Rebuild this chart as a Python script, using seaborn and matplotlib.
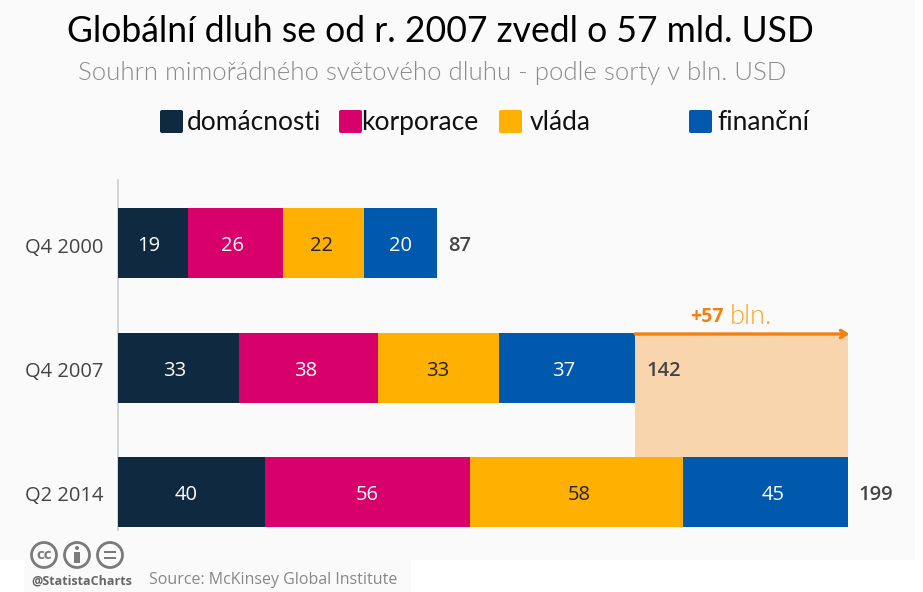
import pandas as pd
import matplotlib.pyplot as plt
import seaborn as sns
from matplotlib.patches import Rectangle, Circle, FancyBboxPatch
from matplotlib.transforms import ScaledTranslation

quarters = ["Q4 2000", "Q4 2007", "Q2 2014"]
domacnosti = [19, 33, 40]
korporace = [26, 38, 56]
vlada = [22, 33, 58]
financni = [20, 37, 45]
totals = [87, 142, 199]

series = ["domácnosti", "korporace", "vláda", "finanční"]
colors = ["#0f2a40", "#d8006a", "#ffb000", "#0059ad"]
text_colors = ["white", "white", "#222222", "white"]
legend_x = [160, 339, 499, 689]
legend_text_x = [187, 361, 530, 717]

# the value labels are not quite centred in the original (px, per quarter and series)
label_nudge = [[-4, -3, -2, 0], [-4, -3, -1, -4], [-5, 0, 3, 8]]

BG = "#fafafa"
SCALE = 3.668  # px per unit

df = pd.DataFrame({"domácnosti": domacnosti, "korporace": korporace,
                   "vláda": vlada, "finanční": financni}, index=quarters)
cum = df.cumsum(axis=1)

sns.set_theme(style="white")
plt.rcParams["font.family"] = ["Open Sans", "DejaVu Sans"]

fig = plt.figure(figsize=(9.23, 5.92), dpi=100, facecolor="white")

# pixel overlay for the page background, titles, legend and footer
page = fig.add_axes([0, 0, 1, 1], zorder=0)
page.set_xlim(0, 923)
page.set_ylim(592, 0)
page.axis("off")
page.add_patch(Rectangle((0, 0), 915, 560, color=BG, lw=0))
page.add_patch(Rectangle((24, 560), 387, 32, color=BG, lw=0))

ax = fig.add_axes([118 / 923, 1 - 530 / 592, (915 - 118) / 923, 350 / 592], zorder=1)
ax.patch.set_alpha(0)

# stacked bars: draw cumulative totals from longest to shortest
for name, col in reversed(list(zip(series, colors))):
    sns.barplot(x=cum[name].values, y=quarters, color=col, width=70 / 124.5,
                saturation=1, orient="h", ax=ax, zorder=3, linewidth=0)

ax.set_xlim(0, (915 - 118) / SCALE)
ax.set_ylim(2 + 38 / 124.5, -63 / 124.5)
ax.set_xticks([])
ax.set_xlabel("")
ax.tick_params(axis="y", length=0, pad=10.5, labelsize=14.5, labelcolor="#444444")
for lab in ax.get_yticklabels():
    lab.set_transform(lab.get_transform() + ScaledTranslation(0, -2 / 100, fig.dpi_scale_trans))
sns.despine(ax=ax, top=True, right=True, bottom=True)
ax.spines["left"].set_color("#cccccc")
ax.spines["left"].set_linewidth(1.2)

# growth area between 2007 and 2014
end_2007 = cum.loc["Q4 2007", "finanční"]
end_2014 = cum.loc["Q2 2014", "finanční"]
ax.add_patch(Rectangle((end_2007, 1 - 35 / 124.5), end_2014 - end_2007, 1 + 70 / 124.5,
                       facecolor="#f9d5ae", lw=0, zorder=1))
ax.annotate("", xy=(end_2014 + 0.4, 1 - 33.5 / 124.5), xytext=(end_2007, 1 - 33.5 / 124.5),
            arrowprops=dict(arrowstyle="->,head_width=0.22,head_length=0.35", color="#f08010", lw=2.4,
                            shrinkA=0, shrinkB=0), zorder=4)

for i, q in enumerate(quarters):
    for j, (name, tcol) in enumerate(zip(series, text_colors)):
        mid = cum.loc[q, name] - df.loc[q, name] / 2
        ax.annotate(str(df.loc[q, name]), xy=(mid, i), xytext=(label_nudge[i][j] * 0.72, -2.5),
                    textcoords="offset points", color=tcol, fontsize=14.5,
                    ha="center", va="center", zorder=5)
    ax.annotate(str(totals[i]), xy=(cum.loc[q, "finanční"] + 3, i), xytext=(0, -2.5),
                textcoords="offset points", color="#444444", fontsize=14.5,
                fontweight="semibold", ha="left", va="center", zorder=5)

page.text(690, 317, "+57", color="#f08010", fontsize=14, fontweight="bold", ha="left", va="center", zorder=6)
page.text(730, 317, "bln.", color="#f5a623", fontsize=19.5, family="Lato", fontweight=300, ha="left", va="center", zorder=6)

page.text(67, 31, "Globální dluh se od r. 2007 zvedl o 57 mld. USD", fontsize=25.6,
          family="Lato", color="black", ha="left", va="center")
page.text(78, 73, "Souhrn mimořádného světového dluhu - podle sorty v bln. USD", fontsize=18.55,
          family="Lato", fontweight=300, color="#8c8c8c", ha="left", va="center")

for name, col, lx, tx in zip(series, colors, legend_x, legend_text_x):
    page.add_patch(FancyBboxPatch((lx, 110), 23, 23, boxstyle="round,pad=0,rounding_size=2",
                                  facecolor=col, lw=0))
    page.text(tx, 122.5, name, fontsize=19, family="Lato", color="#111111", ha="left", va="center")

# cc badges
grey = "#7a7a7a"
for cx in [44, 77, 110]:
    page.add_patch(Circle((cx, 555), 12.5, facecolor=BG, edgecolor=grey, lw=2))
page.text(44, 555, "cc", fontsize=11, fontweight="bold", color=grey, ha="center", va="center")
page.add_patch(Circle((77, 548), 2, color=grey, lw=0))
page.add_patch(Rectangle((74, 551.5), 6, 11, color=grey, lw=0))
page.add_patch(Rectangle((104, 550.5), 12, 2.6, color=grey, lw=0))
page.add_patch(Rectangle((104, 556.5), 12, 2.6, color=grey, lw=0))

page.text(31, 581, "@StatistaCharts", fontsize=9, fontweight="bold", color="#666666", ha="left", va="center")
page.text(149, 580, "Source: McKinsey Global Institute", fontsize=11.5, color="#888888", ha="left", va="center")

fig.savefig("out.png", dpi=100, facecolor=fig.get_facecolor())
